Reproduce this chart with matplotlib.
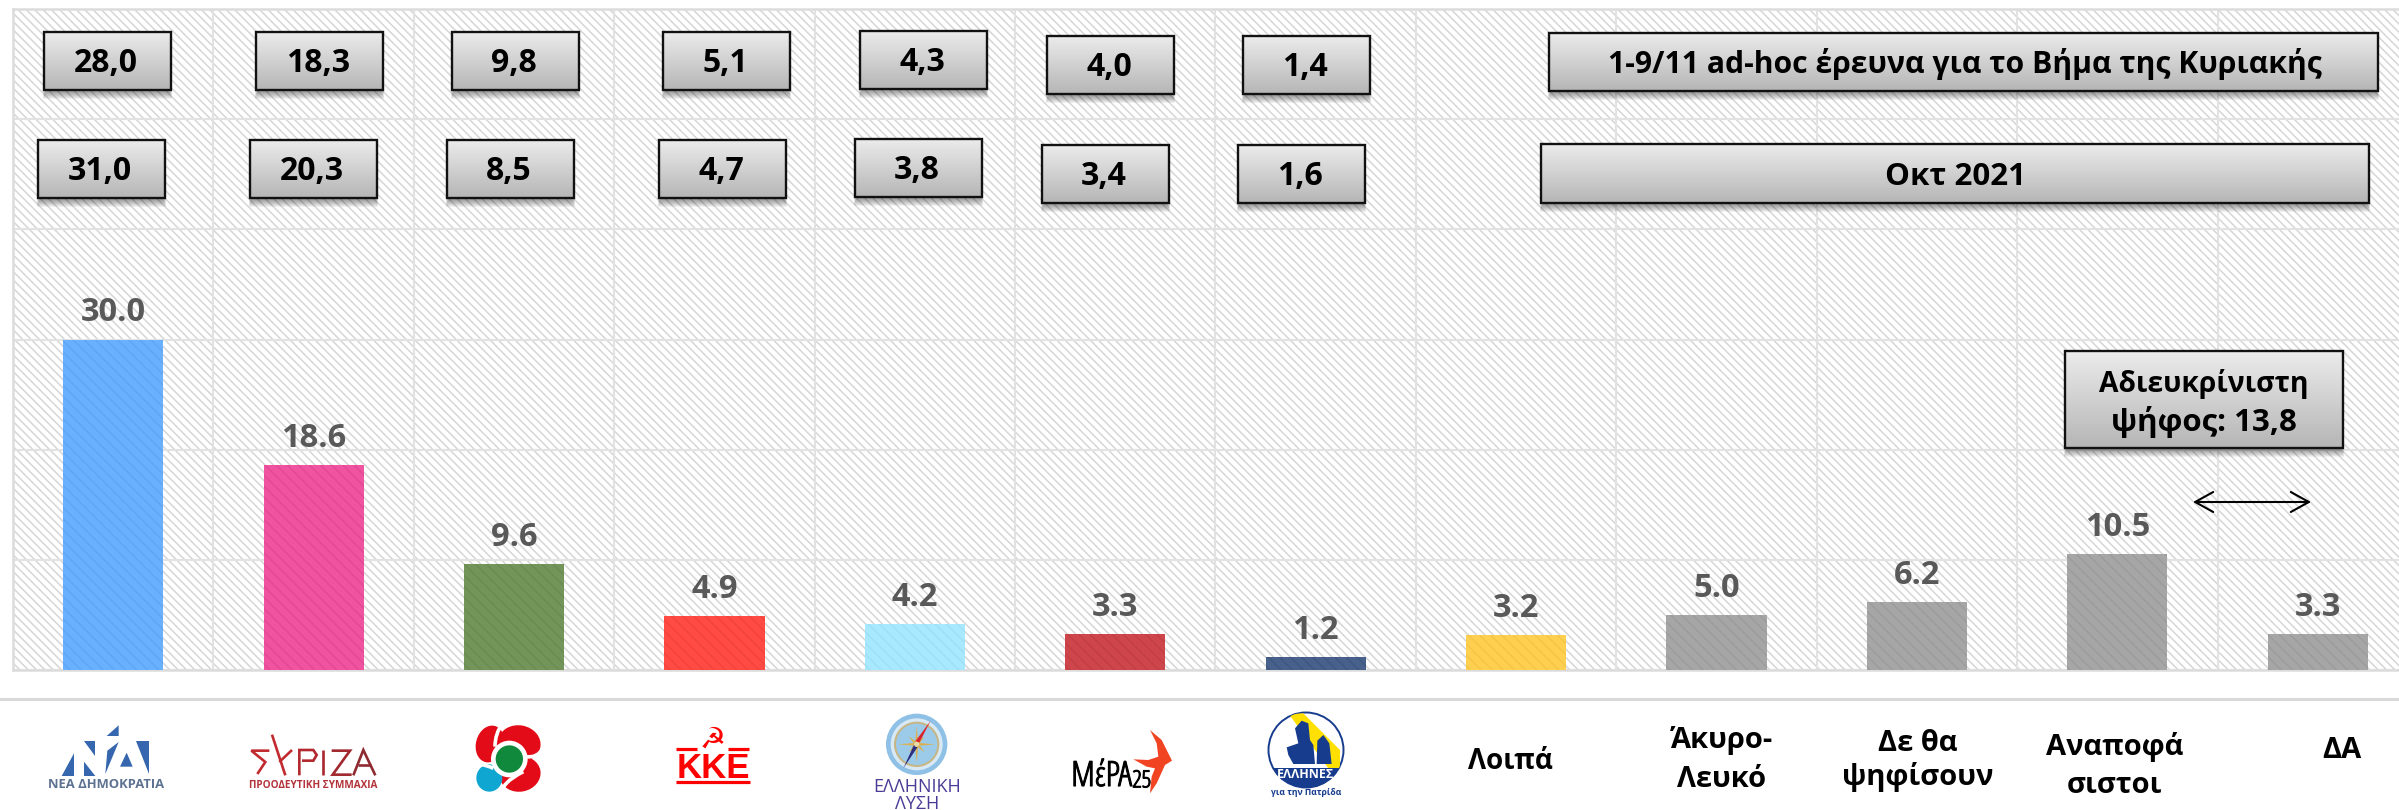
"""Greek party poll bar chart, Nov 2021, with the two comparison rows on top."""
import matplotlib
matplotlib.use("Agg")
import matplotlib.patheffects as pe
import matplotlib.pyplot as plt
import numpy as np
from matplotlib.colors import LinearSegmentedColormap
from matplotlib.patches import Circle, Ellipse, PathPatch, Polygon, Rectangle
from matplotlib.path import Path
from matplotlib.ticker import MultipleLocator

plt.rcParams["font.family"] = ["Open Sans", "DejaVu Sans"]
plt.rcParams["hatch.linewidth"] = 1.1

W, H = 2399, 810

categories = ["ΝΔ", "ΣΥΡΙΖΑ", "ΠΑΣΟΚ", "ΚΚΕ", "Ελληνική Λύση", "ΜέΡΑ25", "Έλληνες",
              "Λοιπά", "Άκυρο-Λευκό", "Δε θα ψηφίσουν", "Αναποφάσιστοι", "ΔΑ"]
values = [30.0, 18.6, 9.6, 4.9, 4.2, 3.3, 1.2, 3.2, 5.0, 6.2, 10.5, 3.3]
bar_colors = ["#69B0FF", "#F0539F", "#74955A", "#FF4B43", "#A9E9FF", "#CE464B",
              "#47608C", "#FFD04F", "#A6A6A6", "#A6A6A6", "#A6A6A6", "#A6A6A6"]
hatch_colors = ["#5FA6F6", "#E44A94", "#6A8B52", "#F2443C", "#A0E0F6", "#C23F44",
                "#405880", "#F5C646", "#9C9C9C", "#9C9C9C", "#9C9C9C", "#9C9C9C"]

nov_labels = ["28,0", "18,3", "9,8", "5,1", "4,3", "4,0", "1,4"]
oct_labels = ["31,0", "20,3", "8,5", "4,7", "3,8", "3,4", "1,6"]
nov_title = "1-9/11 ad-hoc έρευνα για το Βήμα της Κυριακής"
oct_title = "Οκτ 2021"
undecided_lines = ["Αδιευκρίνιστη", "ψήφος: 13,8"]

# box layout in figure pixels: left edge, top edge
nov_pos = [(44, 32), (256, 32), (452, 32), (663, 32), (860, 31), (1047, 36), (1243, 36)]
oct_pos = [(38, 140), (250, 140), (447, 140), (659, 140), (855, 139), (1042, 145), (1238, 145)]

fig = plt.figure(figsize=(W / 100, H / 100), dpi=100, facecolor="white")

# plot runs past the right edge of the picture, as in the original slide
ax = fig.add_axes([13 / W, (H - 670) / H, 2405 / W, 661 / H])
ax.set_xlim(0, 12)
ax.set_ylim(0, 60)
ax.patch.set_facecolor("white")
ax.patch.set_edgecolor("#D6D6D6")
ax.patch.set_hatch("\\\\\\\\")
ax.patch.set_linewidth(0)
ax.xaxis.set_major_locator(MultipleLocator(1))
ax.yaxis.set_major_locator(MultipleLocator(10))
ax.grid(True, color="#E2E2E2", lw=1.5)
ax.set_axisbelow(True)
ax.tick_params(length=0, labelbottom=False, labelleft=False)
for s in ax.spines.values():
    s.set_color("#DCDCDC")
    s.set_linewidth(1.8)

xs = np.arange(len(values)) + 0.5
for x, v, c, hc in zip(xs, values, bar_colors, hatch_colors):
    ax.bar(x, v, width=0.5, facecolor=c, edgecolor=hc, hatch="\\\\\\", lw=0, zorder=3)
    ax.annotate(f"{v:.1f}", (x, v), xytext=(0, 13), textcoords="offset points",
                ha="center", va="baseline", fontsize=23.5, fontweight="bold", color="#595959")

# overlay in pixel coordinates for boxes, arrow and logo row
ov = fig.add_axes([0, 0, 1, 1], zorder=5)
ov.patch.set_alpha(0)
ov.axis("off")

grad = LinearSegmentedColormap.from_list("box", ["#EBEBEB", "#B6B6B6"])


def box(x0, y0, w, h):
    for d in range(1, 9):
        ov.add_patch(Rectangle((x0 - d * 0.4 + 2, y0 + 6), w + d * 0.8 - 4, h + d - 5,
                               fc="black", ec="none", alpha=0.055))
    ov.imshow(np.linspace(0, 1, 64).reshape(-1, 1), cmap=grad, aspect="auto",
              extent=(x0, x0 + w, y0 + h, y0), zorder=2)
    ov.add_patch(Rectangle((x0, y0), w, h, fc="none", ec="#111111", lw=1.7, zorder=3))


def label(x, y, s, size=21, color="black", weight="bold", **kw):
    return ov.text(x, y, s, ha="center", va="baseline", fontsize=size, color=color,
                   fontweight=weight, zorder=4, **kw)


for labels, pos in ((nov_labels, nov_pos), (oct_labels, oct_pos)):
    for s, (x0, y0) in zip(labels, pos):
        box(x0, y0, 127, 58)
        label(x0 + 62, y0 + 40, s, size=23)

box(1549, 33, 829, 58)
label(1965, 73, nov_title, size=21.7)
box(1541, 144, 828, 59)
label(1955, 185, oct_title, size=22.5)

box(2065, 351, 278, 97)
label(2204, 392, undecided_lines[0], size=20.3)
label(2204, 431, undecided_lines[1], size=22.5)

ov.annotate("", xy=(2193, 502), xytext=(2311, 502), zorder=4,
            arrowprops=dict(arrowstyle="<->,head_length=0.65,head_width=0.36", color="black",
                            lw=1.5, shrinkA=0, shrinkB=0, mutation_scale=20))

ov.plot([0, W], [699, 699], color="#D9D9D9", lw=2.2)

# text categories of the bottom row
label(1510, 769, categories[7], size=20)
label(1722, 748, "Άκυρο-")
label(1722, 787, "Λευκό")
label(1918, 751, "Δε θα")
label(1918, 785, "ψηφίσουν")
label(2115, 755, "Αναποφά")
label(2115, 793, "σιστοι")
label(2342, 758, categories[11])


def zpts(ox, oy, pts):
    """zoomed-crop coordinates (3x) back to figure pixels"""
    return [(ox + a / 3, oy + b / 3) for a, b in pts]


def poly(ox, oy, pts, color, **kw):
    p = Polygon(zpts(ox, oy, pts), closed=True, fc=color, ec="none", **kw)
    ov.add_patch(p)
    return p


def line(ox, oy, pts, color, lw):
    arr = np.array(zpts(ox, oy, pts))
    ov.plot(arr[:, 0], arr[:, 1], color=color, lw=lw, solid_capstyle="butt",
            solid_joinstyle="miter")


# Nea Dimokratia
nd = "#3566AE"
for tri in ([(230, 108), (266, 76), (266, 108)],
            [(95, 228), (132, 160), (132, 228)],
            [(162, 124), (196, 124), (196, 168)],
            [(162, 185), (196, 228), (162, 228)],
            [(226, 222), (232, 152), (266, 126)],
            [(270, 200), (290, 158), (308, 200)],
            [(318, 124), (356, 124), (356, 222)]):
    poly(30, 700, tri, nd)
label(30 + 228 / 3, 700 + 264 / 3, "ΝΕΑ ΔΗΜΟΚΡΑΤΙΑ", size=9.4, color="#5E7391")

# Syriza
syr = "#C12B30"
line(30, 700, [(718, 152), (664, 152), (706, 186), (682, 222)], syr, 1.9)
line(30, 700, [(726, 104), (766, 226)], syr, 1.9)
line(30, 700, [(786, 150), (748, 186)], syr, 1.9)
line(30, 700, [(808, 226), (808, 150), (850, 150), (860, 165), (850, 182), (816, 182)], "#B3282E", 1.9)
line(30, 700, [(878, 150), (878, 226)], "#A8282E", 1.9)
line(30, 700, [(905, 152), (960, 152), (908, 224), (965, 224)], "#A0282E", 1.9)
line(30, 700, [(970, 226), (1000, 150), (1036, 226)], "#8E2A30", 1.9)
line(30, 700, [(985, 196), (1022, 196)], "#8E2A30", 1.9)
label(30 + 850 / 3, 700 + 265 / 3, "ΠΡΟΟΔΕΥΤΙΚΗ ΣΥΜΜΑΧΙΑ", size=7.2, color="#B2333A")

# PASOK
pk_r = "#E30B17"
c = lambda a, b: (430 + a / 3, 700 + b / 3)
ov.add_patch(Ellipse(c(180, 132), 84 / 3, 112 / 3, angle=15, fc=pk_r, ec="none"))
ov.add_patch(Ellipse(c(268, 130), 128 / 3, 108 / 3, angle=10, fc=pk_r, ec="none"))
ov.add_patch(Ellipse(c(270, 222), 124 / 3, 106 / 3, angle=-10, fc=pk_r, ec="none"))
ov.add_patch(Ellipse(c(178, 234), 78 / 3, 82 / 3, fc="#0FA6D2", ec="none"))
for a, b, e in (((195, 140), (195, 100), (218, 70)),
                ((290, 170), (320, 175), (340, 145)),
                ((280, 215), (210, 250), (218, 282)),
                ((190, 205), (170, 195), (132, 188))):
    ov.add_patch(PathPatch(Path([c(*a), c(*b), c(*e)], [Path.MOVETO, Path.CURVE3, Path.CURVE3]),
                           fc="none", ec="white", lw=2.6))
ov.add_patch(Circle(c(238, 177), 55 / 3, fc="white", ec="none"))
ov.add_patch(Circle(c(238, 177), 41 / 3, fc="#10893C", ec="none"))

# KKE
kk = "#FF0000"
ov.text(*c(849, 118), "☭", ha="center", va="center", fontsize=21, color=kk,
        family="DejaVu Sans", fontweight="bold")
label(*c(849, 235), "KKE", size=25, color=kk, family="Liberation Sans")
for seg in ([(738, 148), (802, 148)], [(893, 148), (957, 148)], [(738, 245), (960, 245)]):
    line(430, 700, seg, kk, 2.3)

# Elliniki Lysi
e = lambda a, b: (840 + a / 3, 700 + b / 3)
ov.add_patch(Circle(e(230, 133), 92 / 3, fc="#8FC0E6", ec="none"))
ov.add_patch(Circle(e(230, 133), 78 / 3, fc="#D8E9F6", ec="none"))
ov.add_patch(Circle(e(230, 133), 68 / 3, fc="#C7B684", ec="none"))
ov.add_patch(Circle(e(230, 133), 62 / 3, fc="#9CCBEA", ec="none"))
star = []
for k in range(16):
    r = 56 if k % 4 == 0 else (34 if k % 2 == 0 else 10)
    ang = np.pi * k / 8
    star.append((230 + r * np.cos(ang), 133 + r * np.sin(ang)))
poly(840, 700, star, "#DDB04E")
poly(840, 700, [(272, 62), (238, 128), (226, 124)], "#D9252B")
poly(840, 700, [(190, 205), (236, 136), (224, 130)], "#2B2F7E")
ov.add_patch(Circle(e(230, 133), 8 / 3, fc="#E8D9A6", ec="none"))
label(*e(232, 277), "ΕΛΛΗΝΙΚΗ", size=13, color="#4A3C96", weight="normal")
label(*e(232, 328), "ΛΥΣΗ", size=13, color="#4A3C96", weight="normal")

# MeRA25, condensed face only comes in regular so thicken it with a stroke
for tx in (label(*e(785, 258), "ΜέΡΑ", size=25, stretch="condensed", weight="normal"),
           label(*e(905, 262), "25", size=17, stretch="condensed", weight="normal")):
    tx.set_path_effects([pe.withStroke(linewidth=0.8, foreground="black")])
poly(840, 700, [(930, 90), (965, 120), (990, 170), (996, 182), (975, 195), (950, 250), (930, 280),
                (935, 230), (945, 205), (920, 200), (880, 178), (925, 180), (955, 170), (950, 130)],
     "#F04423")

# Ellines
navy = "#173C8E"
disc = Circle((1306, 750), 37.5, fc="white", ec=navy, lw=1.4)
ov.add_patch(disc)
clip = [poly(840, 700, [(1345, 40), (1390, 40), (1500, 150), (1500, 205), (1465, 205)], "#FFE000"),
        poly(840, 700, [(1290, 205), (1500, 205), (1500, 290), (1290, 290)], navy),
        poly(840, 700, [(1375, 130), (1365, 85), (1385, 62), (1405, 70), (1410, 120), (1420, 135),
                        (1425, 192), (1360, 192), (1345, 165), (1340, 142)], navy),
        poly(840, 700, [(1430, 192), (1432, 122), (1450, 105), (1468, 130), (1475, 192)], navy)]
for p in clip:
    p.set_clip_path(disc)
label(*e(1396, 234), "ΕΛΛΗΝΕΣ", size=9, color="white")
label(*e(1400, 286), "για την Πατρίδα", size=6.2, color=navy)

ov.set_xlim(0, W)
ov.set_ylim(H, 0)

fig.savefig("out.png", dpi=100)
plt.close(fig)
